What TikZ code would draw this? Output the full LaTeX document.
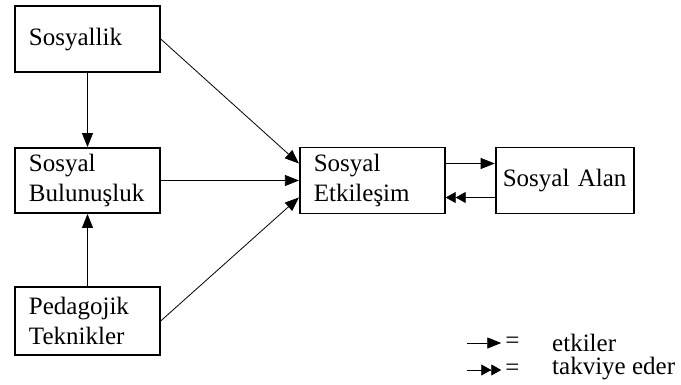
\documentclass[tikz,border=0pt]{standalone}
\usepackage{fontspec}
\setmainfont{Liberation Serif}
\usetikzlibrary{positioning, calc, arrows.meta}
\tikzstyle{Box} = [
draw,
line width=1.8pt,
minimum height=66pt,
inner xsep=14pt,
text width=117pt,
align=left]
\tikzstyle{Arrow} = [
line width=0.8pt,
-{Triangle[length=14pt, width=11pt]}]
\tikzstyle{ArrowDouble} = [
line width=0.8pt,
-{Triangle[length=10pt, width=11pt] Triangle[length=10pt, width=11pt]}]

\begin{document}
\begin{tikzpicture}[x=1pt, y=1pt, font=\fontsize{25}{30}\selectfont]
    \useasboundingbox (-87.5,180.5) rectangle (593.5,-204.5);
    \node [Box, minimum height=65pt] (2) {Sosyal\\Bulunuşluk};
    \node [Box, above =74pt of 2] (1) {Sosyallik};
    \node [Box, below =72pt of 2, minimum height=68pt] (3) {Pedagojik\\Teknikler};
    \node [Box, right =138pt of 2] (4) {Sosyal\\Etkileşim};
    \node [Box, right =49pt of 4, text width=124pt, inner xsep=7pt, align=center] (5) {Sosyal Alan};

    \draw[Arrow] (1) -- (2);
    \draw[Arrow] (3) -- (2);
    \draw[Arrow] (1.east) -- ([yshift=17pt]4.west);
    \draw[Arrow] (2) -- (4);
    \draw[Arrow] (3.east) -- ([yshift=-17pt]4.west);
    \draw[Arrow] ([yshift=17pt]4.east) -- ([yshift=17pt]5.west);
    \draw[ArrowDouble] ([yshift=-17pt]5.west) -- ([yshift=-17pt]4.east);

    % key
    \node [inner sep=0pt] (6) at (425,-162.5) {=};
    \node [inner sep=0pt] (7) at (425,-189.5) {=};
    \node [anchor=base west, inner sep=0pt] (8) at (464.5,-171.5) {etkiler};
    \node [anchor=base west, inner sep=0pt] (9) at (464.5,-194.5) {takviye eder};
    \coordinate [left =38pt of 6] (10);
    \coordinate [left =38pt of 7] (11);
    \draw[Arrow] (10) -- ([xshift=-4pt]6.west);
    \draw[ArrowDouble] (11) -- ([xshift=-4pt]7.west);
\end{tikzpicture}
\end{document}
